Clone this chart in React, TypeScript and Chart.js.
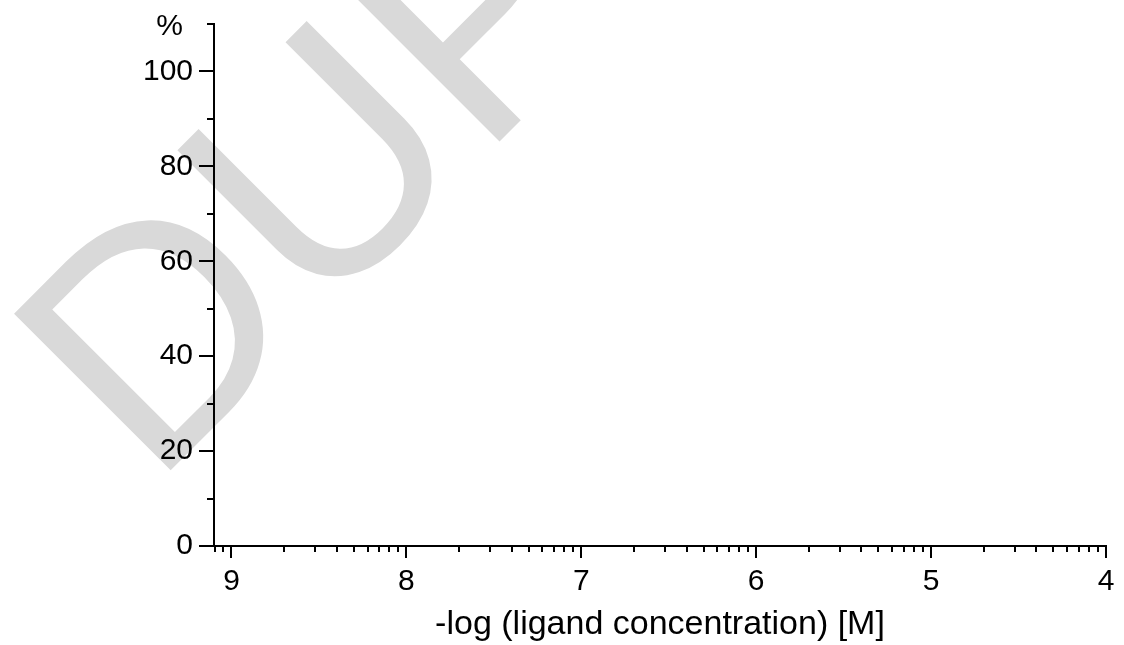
import React, { useEffect, useRef } from "react";
import { Chart, registerables } from "chart.js";

Chart.register(...registerables);

// ---- data / axis definitions ----
const xMajorTicks = [9, 8, 7, 6, 5, 4];
const xDecadeTops = [10, 9, 8, 7, 6, 5];
const xMinorFactors = [2, 3, 4, 5, 6, 7, 8, 9];
const xMin = 4;
const xMax = 9.1;
const yMajorTicks = [0, 20, 40, 60, 80, 100];
const yMinorTicks = [10, 30, 50, 70, 90, 110];
const yMin = 0;
const yMax = 110;
const xTitle = "-log (ligand concentration) [M]";
const yUnit = "%";
const watermarkText = "DUP";

const FONT = '"Liberation Sans", Arial, Helvetica, sans-serif';

const xMinorTicks: number[] = [];
xDecadeTops.forEach((top) => {
  xMinorFactors.forEach((k) => {
    const v = top - Math.log10(k);
    if (v >= xMin && v <= xMax) xMinorTicks.push(v);
  });
});

const watermarkPlugin = {
  id: "watermark",
  beforeDraw(chart: any) {
    const ctx = chart.ctx;
    ctx.save();
    ctx.translate(152, 489);
    ctx.rotate(-Math.PI / 4);
    ctx.font = `322px ${FONT}`;
    ctx.fillStyle = "#d9d9d9";
    ctx.textAlign = "left";
    ctx.textBaseline = "alphabetic";
    ctx.fillText(watermarkText, 0, 0);
    ctx.restore();
  },
};

const tickMarksPlugin = {
  id: "tickMarks",
  afterDraw(chart: any) {
    const ctx = chart.ctx;
    const xs = chart.scales.x;
    const ys = chart.scales.y;
    const { left, top, bottom } = chart.chartArea;
    ctx.save();
    ctx.strokeStyle = "#000";
    ctx.lineWidth = 2;
    ctx.lineCap = "butt";
    const hLine = (y: number, len: number) => {
      const py = Math.round(y);
      ctx.beginPath();
      ctx.moveTo(left - len, py);
      ctx.lineTo(left, py);
      ctx.stroke();
    };
    const vLine = (x: number, len: number) => {
      const px = Math.round(x);
      ctx.beginPath();
      ctx.moveTo(px, bottom);
      ctx.lineTo(px, bottom + len);
      ctx.stroke();
    };
    yMajorTicks.forEach((v) => hLine(ys.getPixelForValue(v), 15));
    yMinorTicks.forEach((v) => hLine(ys.getPixelForValue(v), 7));
    xMajorTicks.forEach((v) => vLine(xs.getPixelForValue(v), 12));
    xMinorTicks.forEach((v) => vLine(xs.getPixelForValue(v), 6));

    ctx.fillStyle = "#000";
    ctx.font = `30px ${FONT}`;
    ctx.textAlign = "right";
    ctx.textBaseline = "alphabetic";
    ctx.fillText(yUnit, left - 31, top + 11);
    ctx.restore();
  },
};

export default function App() {
  const canvasRef = useRef<HTMLCanvasElement | null>(null);

  useEffect(() => {
    if (!canvasRef.current) return;
    const chart = new Chart(canvasRef.current, {
      type: "scatter",
      data: { datasets: [] },
      options: {
        animation: false,
        responsive: true,
        maintainAspectRatio: false,
        devicePixelRatio: 1,
        layout: { padding: { left: 0, top: 21, right: 18, bottom: 0 } },
        plugins: {
          legend: { display: false },
          tooltip: { enabled: false },
          title: { display: false },
        },
        scales: {
          x: {
            type: "linear",
            position: "bottom",
            min: xMin,
            max: xMax,
            reverse: true,
            afterBuildTicks: (s: any) => {
              s.ticks = xMajorTicks.map((v) => ({ value: v }));
            },
            afterFit: (s: any) => {
              s.height = 99;
            },
            grid: { display: false, drawTicks: true, tickLength: 12 },
            border: { display: true, color: "#000", width: 2 },
            ticks: {
              autoSkip: false,
              maxRotation: 0,
              minRotation: 0,
              padding: 6,
              color: "#000",
              font: { family: FONT, size: 30 },
              callback: (v: any) => String(v),
            },
            title: {
              display: true,
              text: xTitle,
              color: "#000",
              font: { family: FONT, size: 34 },
              padding: { top: 0, bottom: 0 },
            },
          },
          y: {
            type: "linear",
            position: "left",
            min: yMin,
            max: yMax,
            afterBuildTicks: (s: any) => {
              s.ticks = yMajorTicks.map((v) => ({ value: v }));
            },
            afterFit: (s: any) => {
              s.width = 214;
            },
            grid: { display: false, drawTicks: true, tickLength: 15 },
            border: { display: true, color: "#000", width: 2 },
            ticks: {
              autoSkip: false,
              padding: 6,
              color: "#000",
              font: { family: FONT, size: 30 },
              callback: (v: any) => String(v),
            },
          },
        },
      },
      plugins: [watermarkPlugin, tickMarksPlugin],
    } as any);
    return () => chart.destroy();
  }, []);

  return (
    <div
      style={{
        position: "fixed",
        left: 0,
        top: 0,
        width: 1124,
        height: 645,
        background: "#fff",
      }}
    >
      <canvas ref={canvasRef} />
    </div>
  );
}
